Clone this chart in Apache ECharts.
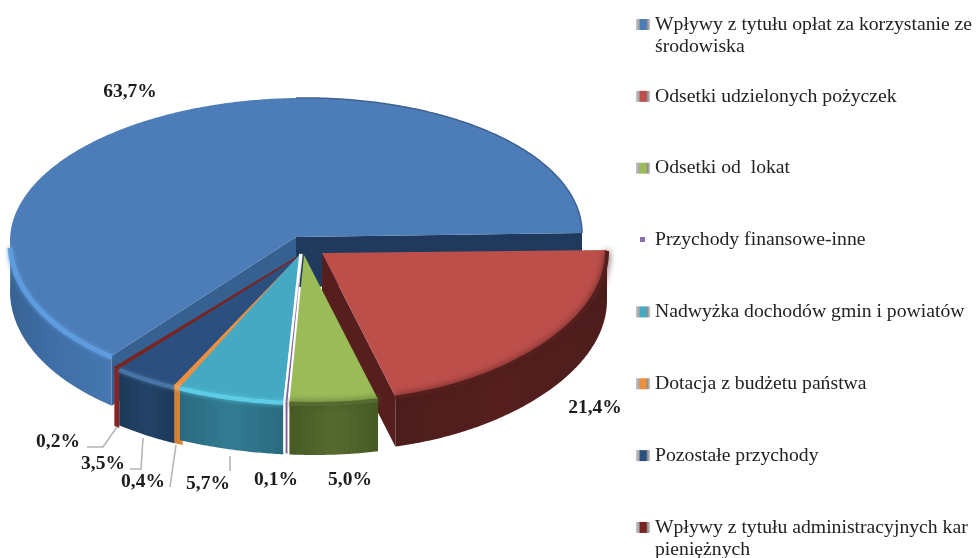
<!DOCTYPE html>
<html><head><meta charset="utf-8">
<style>html,body{margin:0;padding:0;background:#fff}#c{width:976px;height:558px;filter:blur(0.7px)}</style>
<script src="https://cdn.jsdelivr.net/npm/echarts@6/dist/echarts.min.js"></script>
</head><body><div id="c"></div>
<script>
// ---- data ----
const categories = [
  'Wpływy z tytułu opłat za korzystanie ze\nśrodowiska',
  'Odsetki udzielonych pożyczek',
  'Odsetki od  lokat',
  'Przychody finansowe-inne',
  'Nadwyżka dochodów gmin i powiatów',
  'Dotacja z budżetu państwa',
  'Pozostałe przychody',
  'Wpływy z tytułu administracyjnych kar\npieniężnych'
];
const shares = [63.7, 21.4, 5.0, 0.1, 5.7, 0.4, 3.5, 0.2];
const shareLabels = ['63,7%', '21,4%', '5,0%', '0,1%', '5,7%', '0,4%', '3,5%', '0,2%'];

// ---- look ----
const topColors  = ['#4d7db8', '#bd4f4b', '#9bbb59', '#8064a2', '#45a9c4', '#ee8f3f', '#2b4f7e', '#7a2320'];
const wallLight  = ['#4677b0', '#551f1e', '#566a30', '#7d62a0', '#327c92', '#d98436', '#234368', '#8a2422'];
const wallDark   = ['#386393', '#4c1d1c', '#465a24', '#6f5590', '#2a6a80', '#c47730', '#1c3857', '#74201e'];
const rimColors  = ['#5f9de0', null, null, null, '#5fd0ea', '#f7a45c', '#4a78aa', null];
const drawZ      = [1, 2, 8, 7, 6, 5, 4, 3];
const thickEdge  = [0, 0, 0, 0, 0, 1.5, 0, 2];
// slice placement: ax, ay = apex, rx, ryF = front radius, ryB = back radius, d = wall height
const placement = [
  {ax: 296, ay: 237, rx: 286, ryF: 153, ryB: 139, tilt: 4, d: 50},
  {ax: 322, ay: 253, rx: 285, ryF: 148, ryB: 139, tilt: 3, d: 50},
  {ax: 304, ay: 255, rx: 288, ryF: 148, ryB: 139, tilt: 0, d: 52},
  {ax: 302, ay: 254, rx: 288, ryF: 148, ryB: 139, tilt: 0, d: 52},
  {ax: 300, ay: 254, rx: 288, ryF: 148, ryB: 139, tilt: 0, d: 53},
  {ax: 302, ay: 254, rx: 288, ryF: 148, ryB: 139, tilt: 0, d: 57},
  {ax: 302, ay: 255, rx: 288, ryF: 148, ryB: 139, tilt: 0, d: 57},
  {ax: 301, ay: 255, rx: 288, ryF: 148, ryB: 139, tilt: 0, d: 58}
];
const START_DEG = 90;
const labelAt = [[130, 92], [595, 408], [350, 480], [276, 480], [208, 484], [143, 482], [103, 464], [58, 442]];
const leaders = [null, null, null, null,
  [[230, 456], [230, 471]],
  [[176, 445], [170, 487]],
  [[143, 438], [141, 469], [130, 469]],
  [[117, 427], [103, 447], [87, 447]]];

const G = echarts.graphic;
function rim(p, deg) {
  const t = deg * Math.PI / 180, s = Math.sin(t), c = Math.cos(t);
  const skew = c < 0 ? 11 * Math.pow(-c, 6) : 0;
  const ry = c < 0 ? p.ryF : p.ryB;
  return [p.ax + p.rx * s + skew, p.ay - ry * c - p.tilt * s];
}
function arc(p, a, b) {
  const out = [], n = Math.max(2, Math.ceil(Math.abs(b - a) * 2));
  for (let i = 0; i <= n; i++) out.push(rim(p, a + (b - a) * i / n));
  return out;
}
const total = shares.reduce((a, b) => a + b, 0);
// the first slice ends at START_DEG, the others follow it clockwise
const startOf = i => START_DEG + shares.slice(1, i).reduce((a, b) => a + b, 0) * 360 / total;

function renderSlice(i) {
  return function (params, api) {
    const span = api.value(0) * 360 / total;
    const a = i === 0 ? START_DEG + 360 - span : startOf(i);
    const b = i === 0 ? START_DEG + 360 : a + span;
    const p = placement[i], apex = [p.ax, p.ay], D = p.d;
    const kids = [];
    const poly = (points, fill, extra) => kids.push({type: 'polygon', shape: {points}, style: Object.assign({fill}, extra || {})});
    const edge = c => thickEdge[i] ? {stroke: c, lineWidth: thickEdge[i]} : {};

    if (i === 0) { // cut faces of the large slice
      const e = rim(p, b), s = rim(p, a);
      poly([apex, e, [e[0], e[1] + D], [apex[0], apex[1] + D]], '#1f3a5c');
      poly([apex, s, [s[0], s[1] + D], [apex[0], apex[1] + D]], '#35608f');
    }
    if (i === 1) { // left cut face of the red slice
      const e = rim(p, b);
      poly([apex, e, [e[0], e[1] + D], [apex[0], apex[1] + D]], '#561f1e');
    }
    if (i === 3) { // white seam beside the thinnest slice
      const m = rim(p, a + span / 2);
      kids.push({type: 'polyline', shape: {points: [[apex[0] - 1, apex[1]], [m[0] - 1.5, m[1]], [m[0] - 1.5, m[1] + D]]},
        style: {fill: null, stroke: '#ffffff', lineWidth: 3.5}});
    }
    // outer wall: only the part facing the viewer
    const wa = i === 0 ? a : Math.max(a, 90), wb = i === 0 ? 272 : Math.min(b, 270);
    if (wb > wa) {
      const r = arc(p, wa, wb);
      const stops = i === 0
        ? [{offset: 0, color: wallLight[i]}, {offset: 0.6, color: '#3f6ea6'}, {offset: 1, color: wallDark[i]}]
        : [{offset: 0, color: wallDark[i]}, {offset: 0.5, color: wallLight[i]}, {offset: 1, color: wallDark[i]}];
      poly(r.concat(r.map(q => [q[0], q[1] + D]).reverse()), new G.LinearGradient(i === 0 ? 1 : 0, 0, i === 0 ? 0 : 1, 0, stops), edge(wallLight[i]));
    }
    // top face
    poly([apex].concat(arc(p, a, b)), topColors[i], edge(topColors[i]));
    // soft shading along the rim
    if (i === 0) {
      kids.push({type: 'polyline', shape: {points: arc(p, 360, 450)},
        style: {fill: null, stroke: '#3f618e', lineWidth: 1.5}});
    }
    if (rimColors[i]) {
      kids.push({type: 'polyline', shape: {points: arc(p, a, Math.min(b, 268)).map(q => [q[0], q[1] + 1.5])},
        style: {fill: null, stroke: rimColors[i], lineWidth: i === 0 ? 5 : 4, shadowBlur: 4, shadowColor: rimColors[i], opacity: 0.9}});
    } else if (i === 1 || i === 2) {
      kids.push({type: 'polyline', shape: {points: arc(p, a, b).map(q => [q[0], q[1] + 1])},
        style: {fill: null, stroke: wallLight[i], lineWidth: 4, shadowBlur: 7, shadowColor: wallDark[i]}});
    }
    // leader line and label
    if (leaders[i]) kids.push({type: 'polyline', shape: {points: leaders[i]},
      style: {fill: null, stroke: '#b5b5b5', lineWidth: 1.6}, z2: 20});
    kids.push({type: 'text', z2: 30, style: {text: shareLabels[i], x: labelAt[i][0], y: labelAt[i][1],
      align: 'center', verticalAlign: 'middle', fill: '#1c1c1c', font: 'bold 19.5px "Liberation Serif"'}});
    return {type: 'group', children: kids};
  };
}

const iconColor = c => new G.LinearGradient(0, 0, 1, 0, [
  {offset: 0, color: '#c4c4c4'}, {offset: 0.2, color: '#a9a9a9'}, {offset: 0.32, color: c},
  {offset: 0.72, color: c}, {offset: 0.82, color: '#8f8f8f'}, {offset: 1, color: '#c9c9c9'}
]);
const LEGEND_X = 636, LEGEND_TOP = 14.5, ROW = 71.85, LINE = 20, FONT = 19.7;

const chart = echarts.init(document.getElementById('c'));
chart.setOption({
  animation: false,
  backgroundColor: '#fff',
  legend: {
    orient: 'vertical', left: LEGEND_X, top: LEGEND_TOP, itemWidth: 14, itemHeight: 11, itemGap: ROW - LINE,
    selectedMode: false, padding: 0,
    textStyle: {fontFamily: 'Liberation Serif', fontSize: FONT, lineHeight: LINE, color: '#222'},
    formatter: n => n.split('\n')[0],
    data: categories.map((name, i) => i === 3
      ? {name, icon: 'path://M0,0L0.01,0L0,0.01ZM4,2.5H9V7.5H4ZM14,11L13.99,11L14,10.99Z', itemStyle: {color: '#8a70ab', borderWidth: 0}}
      : {name, icon: 'rect', itemStyle: {color: iconColor(topColors[i]), borderWidth: 0}})
  },
  graphic: categories.map((name, i) => ({name, i})).filter(d => d.name.includes('\n')).map(d => ({
    type: 'text', left: LEGEND_X + 19, top: LEGEND_TOP + d.i * ROW + 22.5,
    style: {text: d.name.split('\n')[1], fill: '#222', font: FONT + 'px "Liberation Serif"'}
  })),
  series: categories.map((name, i) => ({
    type: 'custom', name, coordinateSystem: 'none', z: drawZ[i], silent: true,
    itemStyle: {color: topColors[i]},
    data: [[shares[i]]],
    renderItem: renderSlice(i)
  }))
});
</script></body></html>
